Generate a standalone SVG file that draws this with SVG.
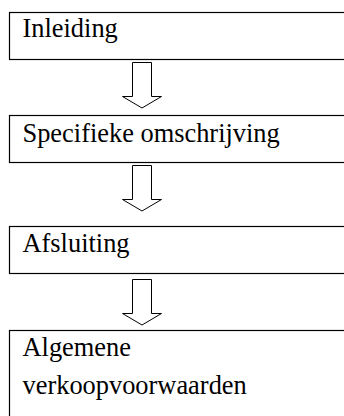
<svg xmlns="http://www.w3.org/2000/svg" width="344" height="416" viewBox="0 0 344 416">
<style>
.box{fill:#fff;stroke:#000;stroke-width:1.2}
.arr{fill:#fff;stroke:#000;stroke-width:1}
.t{font-family:"Liberation Serif","Times New Roman",serif;font-size:26.4px;fill:#000}
</style>
<rect width="344" height="416" fill="#fff"/>
<g id="connectors">
<polygon class="arr" points="132.5,62.5 151.5,62.5 151.5,96.5 161.5,96.5 142,108 122.5,96.5 132.5,96.5"/>
<polygon class="arr" points="132.5,165.5 151.5,165.5 151.5,199.5 161.5,199.5 142,211 122.5,199.5 132.5,199.5"/>
<polygon class="arr" points="132.5,279.5 151.5,279.5 151.5,313.5 161.5,313.5 142,325 122.5,313.5 132.5,313.5"/>
</g>
<g id="inleiding">
<rect class="box" x="9.5" y="12.5" width="350" height="47"/>
<text class="t" x="22.5" y="37">Inleiding</text>
</g>
<g id="specifieke">
<rect class="box" x="9.5" y="115.5" width="350" height="47"/>
<text class="t" x="22.5" y="142">Specifieke omschrijving</text>
</g>
<g id="afsluiting">
<rect class="box" x="9.5" y="226.5" width="350" height="47"/>
<text class="t" x="22.5" y="252">Afsluiting</text>
</g>
<g id="algemene">
<rect class="box" x="9.5" y="330.5" width="350" height="100"/>
<text class="t" x="22.5" y="356">Algemene</text>
<text class="t" x="22.5" y="394">verkoopvoorwaarden</text>
</g>
</svg>
